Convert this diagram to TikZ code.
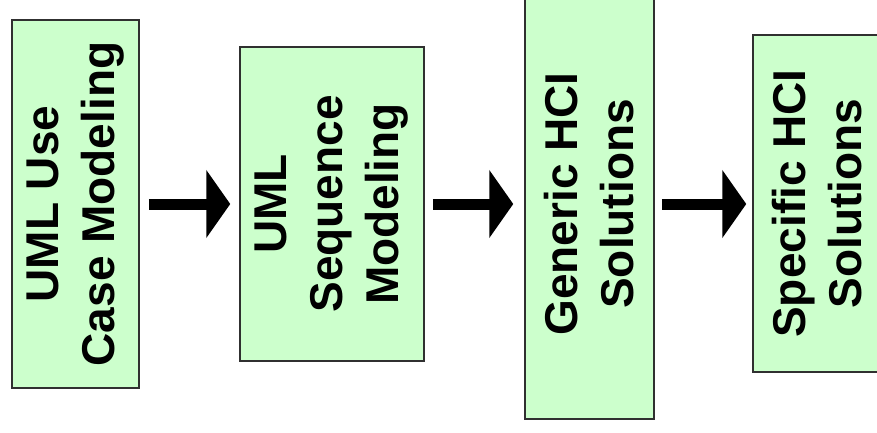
\documentclass[tikz,border=0pt]{standalone}
\usepackage{fontspec}
\setmainfont{Liberation Sans}
\usetikzlibrary{arrows.meta}
\definecolor{boxgreen}{HTML}{CCFFCC}
\definecolor{boxline}{HTML}{303030}
\tikzset{
  stagebox/.style={draw=boxline, line width=1.5pt, fill=boxgreen, inner sep=0pt},
  stagetext/.style={rotate=90, align=center, inner sep=0pt,
    font=\bfseries\fontsize{46}{56}\selectfont},
  bigarrow/.style={line width=11pt, -{Triangle[length=24pt,width=67pt]}}
}
\begin{document}
\begin{tikzpicture}[x=1pt,y=-1pt]
\path[use as bounding box] (0,0) rectangle (877,432);
\clip (0,0) rectangle (877,432);
\node[stagebox, minimum width=127pt, minimum height=368pt] (b1) at (75.5,204) {};
\node[stagebox, minimum width=184pt, minimum height=314pt] (b2) at (332,204) {};
\node[stagebox, minimum width=129pt, minimum height=430pt] (b3) at (589.5,204) {};
\node[stagebox, minimum width=129pt, minimum height=337pt] (b4) at (817.5,203.5) {};
\node[stagetext] (t1) at (b1.center) {UML Use\\Case Modeling};
\node[stagetext] (t2) at (b2.center) {UML\\Sequence\\Modeling};
\node[stagetext] (t3) at (b3.center) {Generic HCI\\Solutions};
\node[stagetext] (t4) at (b4.center) {Specific HCI\\Solutions};
\draw[bigarrow, shorten <=9pt, shorten >=9pt] (b1.east) -- (b2.west);
\draw[bigarrow, shorten <=8pt, shorten >=11pt] (b2.east) -- (b3.west);
\draw[bigarrow, shorten <=7pt, shorten >=6pt] (b3.east) -- (b4.west |- b3.east);
\end{tikzpicture}
\end{document}
